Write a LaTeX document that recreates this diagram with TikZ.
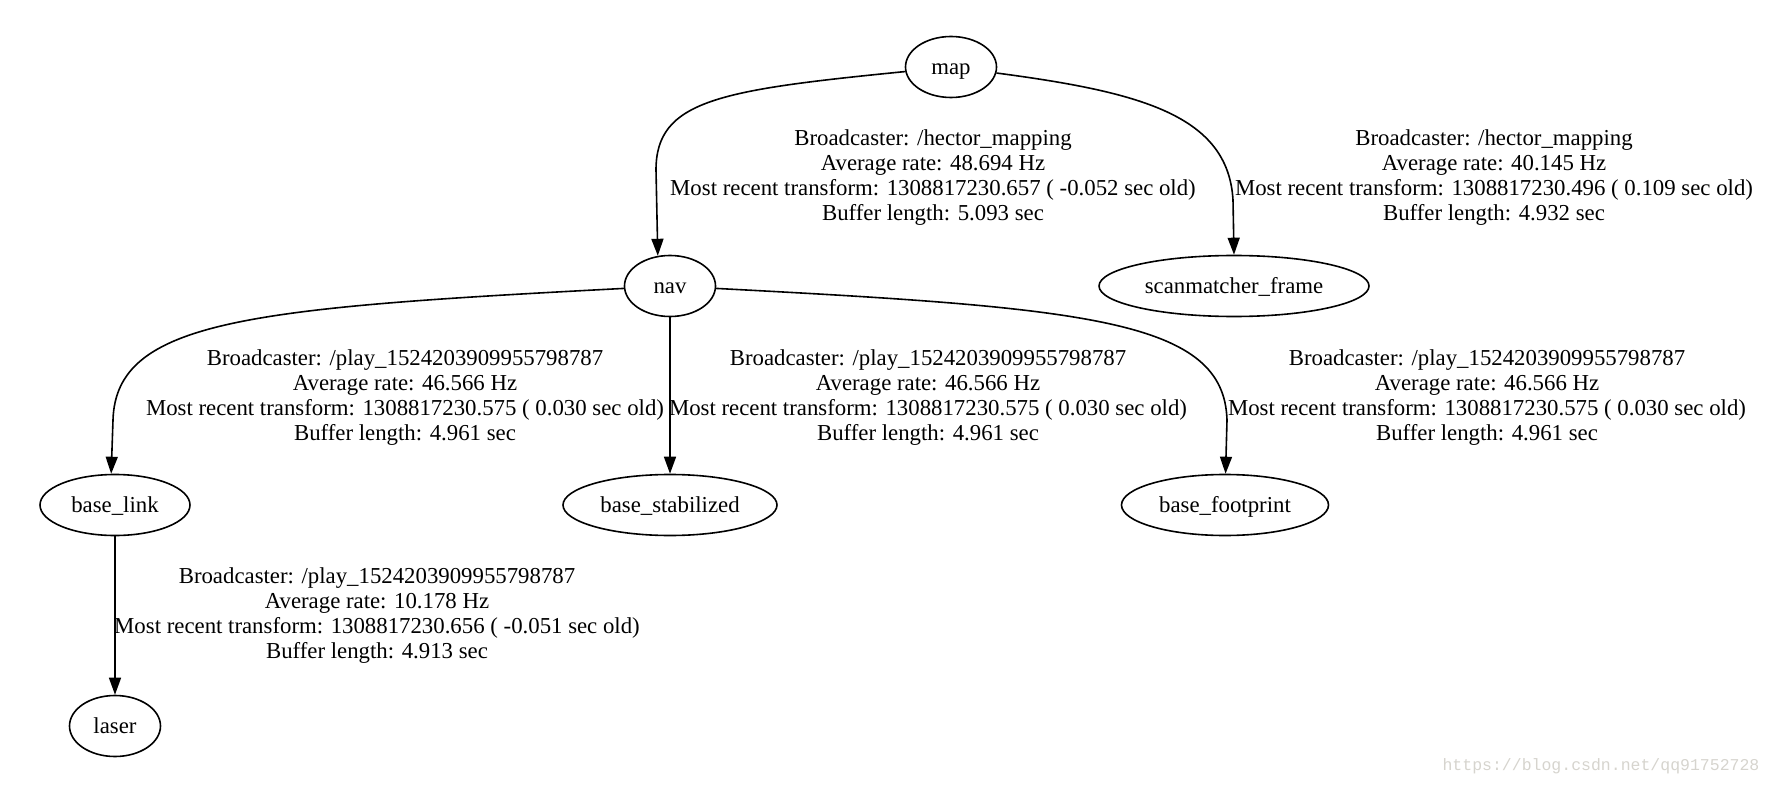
\documentclass[tikz,border=0pt]{standalone}
\usepackage{fontspec}
\setmainfont{Liberation Serif}
\newfontfamily\wmfont{Liberation Mono}
\usetikzlibrary{arrows.meta,shapes.geometric}
\definecolor{wmgray}{RGB}{214,212,206}
\tikzset{
  tfnode/.style={draw, ellipse, line width=1.6pt, inner sep=0pt,
    font=\fontsize{22.8}{25}\selectfont, minimum height=61pt,
    text height=18pt, text depth=3pt},
  lbl/.style={align=center, font=\fontsize{22.8}{25}\selectfont, inner sep=0pt},
  edge/.style={line width=1.6pt, -{Triangle[length=17pt,width=12pt]}},
}
\begin{document}
\begin{tikzpicture}[x=1pt,y=-1pt]
\useasboundingbox (0,0) rectangle (1772,786);
% nodes
\node[tfnode, minimum width=91pt]  (map)   at (951,67)   {map};
\node[tfnode, minimum width=91pt]  (nav)   at (670,286)  {nav};
\node[tfnode, minimum width=270pt] (scan)  at (1234,286) {scanmatcher\_frame};
\node[tfnode, minimum width=150pt] (blink) at (115,505)  {base\_link};
\node[tfnode, minimum width=214pt] (bstab) at (670,505)  {base\_stabilized};
\node[tfnode, minimum width=207pt] (bfoot) at (1225,505) {base\_footprint};
\node[tfnode, minimum width=91pt]  (laser) at (115,726)  {laser};
% edges
\draw[edge] (map) .. controls (720,90) and (656,100) .. (656,170) -- (nav.112);
\draw[edge] (map) .. controls (1140,92) and (1228,115) .. (1233,200) -- (scan.north);
\draw[edge] (nav) .. controls (250,308) and (116,320) .. (113,420) -- (blink.97);
\draw[edge] (nav) -- (bstab);
\draw[edge] (nav) .. controls (1090,308) and (1224,320) .. (1227,420) -- (bfoot.89);
\draw[edge] (blink) -- (laser);
% labels
\node[lbl] (l1) at (933,178) {Broadcaster: /hector\_mapping\\Average rate: 48.694 Hz\\Most recent transform: 1308817230.657 ( -0.052 sec old)\\Buffer length: 5.093 sec};
\node[lbl] (l2) at (1494,178) {Broadcaster: /hector\_mapping\\Average rate: 40.145 Hz\\Most recent transform: 1308817230.496 ( 0.109 sec old)\\Buffer length: 4.932 sec};
\node[lbl] (l3) at (405,398) {Broadcaster: /play\_1524203909955798787\\Average rate: 46.566 Hz\\Most recent transform: 1308817230.575 ( 0.030 sec old)\\Buffer length: 4.961 sec};
\node[lbl] (l4) at (928,398) {Broadcaster: /play\_1524203909955798787\\Average rate: 46.566 Hz\\Most recent transform: 1308817230.575 ( 0.030 sec old)\\Buffer length: 4.961 sec};
\node[lbl] (l5) at (1487,398) {Broadcaster: /play\_1524203909955798787\\Average rate: 46.566 Hz\\Most recent transform: 1308817230.575 ( 0.030 sec old)\\Buffer length: 4.961 sec};
\node[lbl] (l6) at (377,616) {Broadcaster: /play\_1524203909955798787\\Average rate: 10.178 Hz\\Most recent transform: 1308817230.656 ( -0.051 sec old)\\Buffer length: 4.913 sec};
% watermark
\node[font=\wmfont\fontsize{16.5}{18}\selectfont, text=wmgray, inner sep=0pt] (wm) at (1601,766) {https://blog.csdn.net/qq91752728};
\end{tikzpicture}
\end{document}
